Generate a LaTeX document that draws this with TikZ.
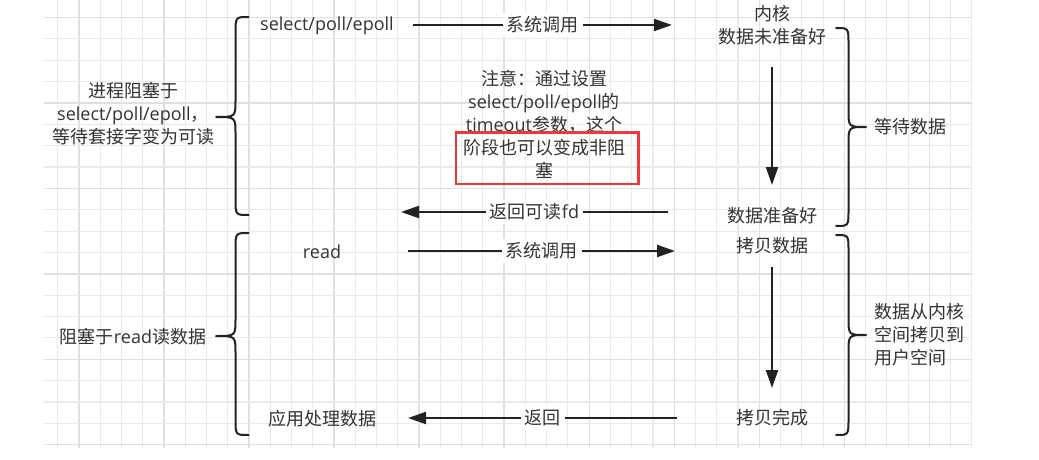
\documentclass[tikz,border=0pt]{standalone}
\usepackage{fontspec}
\setmainfont{Noto Sans CJK SC}
\newfontfamily\latfont{Open Sans}
\newcommand\latn[1]{{\latfont #1}}
\usetikzlibrary{arrows.meta}
\definecolor{textgray}{RGB}{51,51,51}
\definecolor{linedark}{RGB}{34,34,34}
\definecolor{gridminor}{RGB}{234,234,234}
\definecolor{gridmajor}{RGB}{224,224,224}
\definecolor{notered}{RGB}{240,56,56}
\tikzset{
  txt/.style={text=textgray, font=\fontsize{18}{23}\selectfont, align=center, inner sep=0pt},
  flow/.style={draw=linedark, line width=2pt, -{Triangle[length=18pt,width=12pt]}},
  lbl/.style={fill=white, text=textgray, font=\fontsize{18}{23}\selectfont, inner sep=4pt},
  bracestyle/.style={draw=linedark, line width=2pt, line cap=round, line join=round},
}
\newcommand\mybrace[6]{\draw[bracestyle] (#1,#4) .. controls (#2,#4) .. (#2,#4+16) -- (#2,#5-17) .. controls (#2,#5) .. (#3,#5) .. controls (#2,#5) .. (#2,#5+17) -- (#2,#6-16) .. controls (#2,#6) .. (#1,#6);}
\begin{document}
\begin{tikzpicture}[x=1pt,y=-1pt]
\useasboundingbox[fill=white] (0,0) rectangle (1039,460);
% grid
\foreach \k in {0,...,43}{
  \pgfmathsetmacro\gx{57.7+21.26*\k}
  \pgfmathtruncatemacro\gm{mod(\k,4)}
  \ifnum\gm=1
    \draw[gridmajor, line width=1.4pt] (\gx,0) -- (\gx,447.5);
  \else
    \draw[gridminor, line width=1.1pt] (\gx,0) -- (\gx,447.5);
  \fi
}
\foreach \k in {0,...,20}{
  \pgfmathsetmacro\gy{17.5+21.36*\k}
  \pgfmathtruncatemacro\gm{mod(\k,4)}
  \ifnum\gm=0
    \draw[gridmajor, line width=1.4pt] (44.3,\gy) -- (971.7,\gy);
  \else
    \draw[gridminor, line width=1.1pt] (44.3,\gy) -- (971.7,\gy);
  \fi
}
% text nodes
\node[txt] (sel) at (327,26) {\latn{select/poll/epoll}};
\node[txt] (kern) at (772,25.5) {内核\\数据未准备好};
\node[txt] (note) at (544,124) {注意：通过设置\\\latn{select/poll/epoll}的\\\latn{timeout}参数，这个\\阶段也可以变成非阻\\塞};
\node[txt] (ready) at (772,216) {数据准备好};
\node[txt] (lefta) at (133,114) {进程阻塞于\\\latn{select/poll/epoll}，\\等待套接字变为可读};
\node[txt] (waitd) at (910,127) {等待数据};
\node[txt] (rd) at (322,252) {\latn{read}};
\node[txt] (copy) at (772,246) {拷贝数据};
\node[txt] (done) at (772,418) {拷贝完成};
\node[txt] (app) at (322,419) {应用处理数据};
\node[txt] (leftb) at (133,337) {阻塞于\latn{read}读数据};
\node[txt, align=left, anchor=west] (rightb) at (874,335) {数据从内核\\空间拷贝到\\用户空间};
% red box
\draw[notered, line width=2.5pt] (456,132.5) rectangle (638.5,184);
% arrow endpoints
\coordinate (a1s) at (413,25);
\coordinate (a1e) at (672,25);
\coordinate (d1s) at (772,67);
\coordinate (d1e) at (772,185);
\coordinate (r1s) at (668,212);
\coordinate (r1e) at (401,212);
\coordinate (a2s) at (408,251);
\coordinate (a2e) at (675,251);
\coordinate (d2s) at (772,267);
\coordinate (d2e) at (772,388);
\coordinate (r2s) at (677,418);
\coordinate (r2e) at (408,418);
% arrows
\draw[flow] (a1s) -- node[lbl] (l1) {系统调用} (a1e);
\draw[flow] (d1s) -- (d1e);
\draw[flow] (r1s) -- node[lbl] (l2) {返回可读\latn{fd}} (r1e);
\draw[flow] (a2s) -- node[lbl] (l3) {系统调用} (a2e);
\draw[flow] (d2s) -- (d2e);
\draw[flow] (r2s) -- node[lbl] (l4) {返回} (r2e);
% braces
\mybrace{248.5}{235.5}{216}{17}{117}{215}
\mybrace{248.5}{235.5}{216}{233}{336}{435}
\mybrace{836}{848.5}{866}{28}{127}{226}
\mybrace{836}{848.5}{866}{235}{335}{435}
\end{tikzpicture}
\end{document}
